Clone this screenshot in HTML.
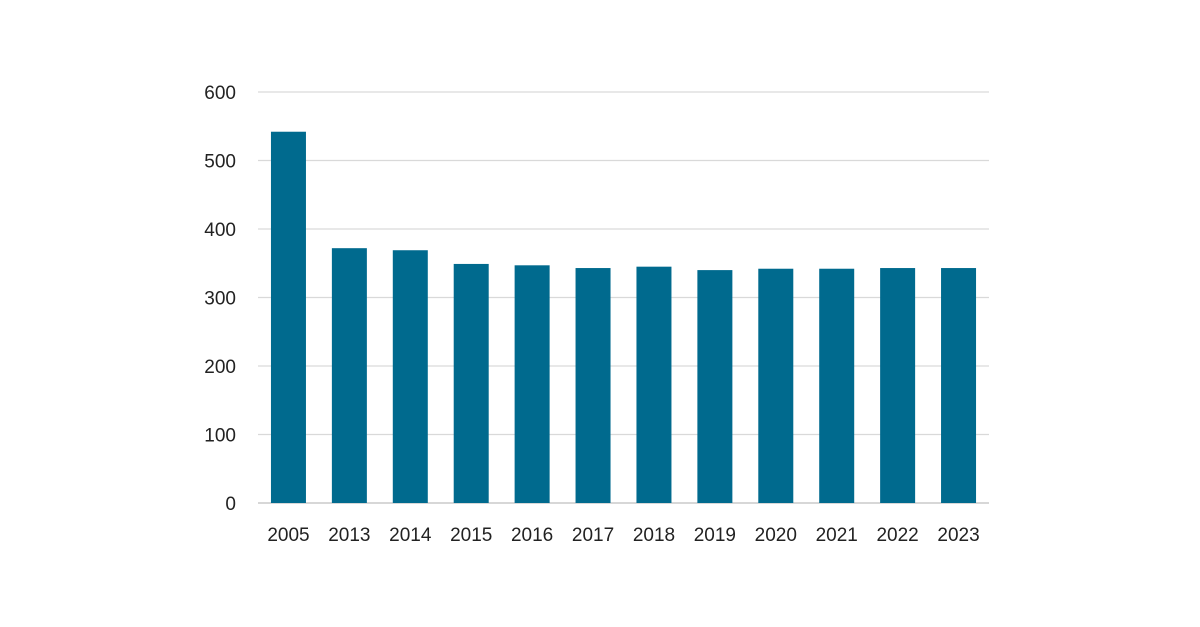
<!DOCTYPE html>
<html><head><meta charset="utf-8"><style>
html,body{margin:0;padding:0;background:#fff;}
svg{display:block;font-family:"Liberation Sans",Arial,sans-serif;}
</style></head><body>
<svg id="chart" width="1200" height="627" viewBox="0 0 1200 627">
<g id="grid"></g>
<g id="bars"></g>
<g id="yticks"></g>
<g id="xticks"></g>
</svg>
<script>
const categories = ["2005","2013","2014","2015","2016","2017","2018","2019","2020","2021","2022","2023"];
const values = [542,372,369,349,347,343,345,340,342,342,343,343];
const yTicks = [0,100,200,300,400,500,600];
const SVGNS="http://www.w3.org/2000/svg";
const plotLeft=258,plotRight=989,plotTop=92,plotBottom=503,yMax=600;
const band=(plotRight-plotLeft)/categories.length,barW=35;
function yScale(v){return plotBottom-(v/yMax)*(plotBottom-plotTop);}
function xScale(i){return plotLeft+band*i+(band-barW)/2;}
function mk(t,a,p){const e=document.createElementNS(SVGNS,t);for(const k in a)e.setAttribute(k,a[k]);p.appendChild(e);return e;}
const gridG=document.getElementById('grid'),barsG=document.getElementById('bars'),ytG=document.getElementById('yticks'),xtG=document.getElementById('xticks');
yTicks.forEach(v=>{
  const l=mk('line',{x1:plotLeft,x2:plotRight,y1:yScale(v),y2:yScale(v),stroke:v===0?'#bfbfbf':'#d9d9d9','stroke-width':1.3},gridG);
  
  
  const t=mk('text',{x:236,y:yScale(v)+7,'text-anchor':'end','font-size':19,fill:'#222'},ytG);
  t.textContent=v;
  
  
});
categories.forEach((c,i)=>{
  const r=mk('rect',{x:xScale(i),y:yScale(values[i]),width:barW,height:plotBottom-yScale(values[i]),fill:'#006a8e'},barsG);
  
  
  const t=mk('text',{x:plotLeft+band*i+band/2,y:541,'text-anchor':'middle','font-size':19,fill:'#222'},xtG);
  t.textContent=c;
  
  
});
</script>
</body></html>
